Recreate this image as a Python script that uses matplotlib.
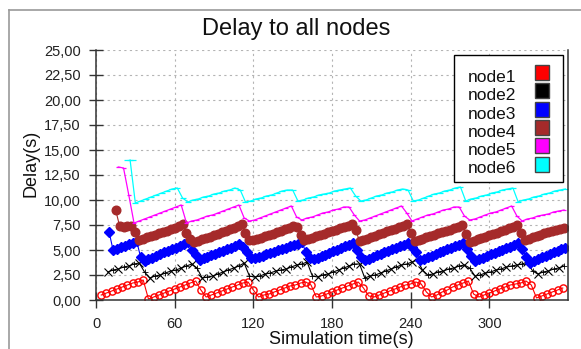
import matplotlib
matplotlib.use("Agg")
import numpy as np
import matplotlib.pyplot as plt
from matplotlib.lines import Line2D
from matplotlib.patches import Rectangle
from matplotlib.ticker import FuncFormatter

plt.rcParams['font.family'] = ['Liberation Sans', 'DejaVu Sans']

# sample times (s) and delays (s), one list per node
t1 = np.arange(4, 357, 4)
v1 = [0.5, 0.7, 0.9, 1.1, 1.3, 1.5, 1.7, 1.8, 2.0, 0.1,
      0.3, 0.5, 0.7, 0.9, 1.1, 1.3, 1.5, 1.7, 1.9, 1.0,
      0.3, 0.5, 0.7, 0.9, 1.1, 1.3, 1.5, 1.7, 1.8, 1.0,
      0.3, 0.5, 0.6, 0.8, 1.0, 1.2, 1.4, 1.5, 1.7, 1.8,
      1.5, 0.3, 0.4, 0.6, 0.8, 1.0, 1.2, 1.4, 1.6, 1.8,
      1.2, 0.4, 0.3, 0.5, 0.7, 0.9, 1.1, 1.3, 1.5, 1.6,
      1.8, 1.6, 0.8, 0.3, 0.5, 0.8, 1.0, 1.3, 1.5, 1.7,
      1.9, 0.6, 0.3, 0.5, 0.7, 0.9, 1.1, 1.3, 1.5, 1.6,
      1.7, 1.9, 1.5, 0.2, 0.4, 0.6, 0.8, 1.0, 1.2]

t2 = np.arange(9, 358, 4)
v2 = [2.8, 3.0, 3.1, 3.3, 3.4, 3.6, 3.7, 2.8, 2.2, 2.4,
      2.5, 2.7, 2.9, 3.0, 3.2, 3.4, 3.6, 3.2, 2.2, 2.3,
      2.4, 2.6, 2.8, 3.0, 3.2, 3.4, 3.7, 2.4, 2.3, 2.4,
      2.6, 2.7, 2.9, 3.0, 3.1, 3.3, 3.5, 3.6, 3.8, 2.4,
      2.3, 2.5, 2.6, 2.8, 3.0, 3.2, 3.4, 3.6, 3.6, 2.2,
      2.4, 2.5, 2.7, 2.9, 3.1, 3.3, 3.5, 3.6, 3.8, 4.0,
      3.0, 2.5, 2.6, 2.8, 2.9, 3.1, 3.2, 3.4, 3.5, 3.2,
      2.4, 2.5, 2.7, 2.8, 3.0, 3.1, 3.3, 3.4, 3.5, 3.6,
      3.8, 2.9, 2.6, 2.8, 2.9, 3.1, 3.2, 3.4]

t3 = np.arange(10, 359, 3)
v3 = [6.8, 5.0, 5.1, 5.3, 5.4, 5.6, 5.7, 5.9, 4.3, 3.9,
      4.1, 4.2, 4.4, 4.6, 4.8, 4.9, 5.1, 5.2, 5.4, 5.6,
      5.8, 5.0, 4.5, 4.0, 4.2, 4.3, 4.5, 4.6, 4.8, 4.9,
      5.1, 5.2, 5.4, 5.6, 5.3, 4.8, 4.2, 4.2, 4.3, 4.4,
      4.6, 4.7, 4.8, 5.0, 5.1, 5.2, 5.4, 5.5, 5.6, 5.8,
      4.8, 4.2, 4.1, 4.2, 4.4, 4.5, 4.7, 4.9, 5.0, 5.2,
      5.4, 5.5, 5.7, 5.0, 4.3, 4.0, 4.1, 4.3, 4.5, 4.6,
      4.8, 4.9, 5.1, 5.2, 5.4, 5.5, 5.7, 5.3, 4.8, 4.0,
      4.1, 4.3, 4.4, 4.6, 4.8, 4.9, 5.1, 5.2, 5.4, 5.5,
      5.7, 5.1, 4.4, 3.9, 4.1, 4.2, 4.4, 4.6, 4.7, 4.9,
      5.0, 5.2, 5.3, 5.5, 5.7, 5.1, 4.3, 3.7, 3.9, 4.1,
      4.3, 4.4, 4.6, 4.8, 4.9, 5.1, 5.2]

t4 = np.arange(15, 358, 3)
v4 = [9.0, 7.4, 7.3, 7.4, 7.4, 6.8, 6.0, 6.1, 6.3, 6.4,
      6.5, 6.7, 6.8, 6.9, 7.1, 7.2, 7.4, 7.6, 6.7, 6.1,
      5.8, 5.9, 6.1, 6.2, 6.3, 6.5, 6.6, 6.8, 6.9, 7.1,
      7.2, 7.4, 7.6, 6.7, 6.0, 6.0, 6.1, 6.2, 6.4, 6.5,
      6.6, 6.8, 6.9, 7.1, 7.2, 7.4, 7.3, 6.5, 6.0, 6.1,
      6.2, 6.4, 6.5, 6.6, 6.8, 6.9, 7.0, 7.2, 7.3, 7.4,
      7.6, 7.0, 5.9, 6.0, 6.1, 6.3, 6.4, 6.6, 6.7, 6.9,
      7.0, 7.1, 7.3, 7.4, 7.6, 6.7, 5.9, 6.0, 6.1, 6.3,
      6.4, 6.5, 6.7, 6.8, 6.9, 7.0, 7.2, 7.3, 7.5, 6.6,
      5.8, 5.9, 6.1, 6.2, 6.3, 6.5, 6.6, 6.7, 6.9, 7.0,
      7.2, 7.3, 7.5, 6.7, 6.0, 6.1, 6.3, 6.4, 6.5, 6.7,
      6.8, 6.9, 7.0, 7.1, 7.2]

t5 = np.arange(17, 358, 4)
v5 = [13.3, 13.2, 10.5, 7.7, 7.9, 8.1, 8.3, 8.5, 8.7, 8.9,
      9.1, 9.3, 9.5, 7.7, 7.9, 8.0, 8.2, 8.4, 8.5, 8.7,
      8.9, 9.1, 9.3, 9.5, 8.2, 7.9, 8.0, 8.2, 8.4, 8.6,
      8.8, 9.0, 9.2, 9.4, 8.3, 8.0, 8.2, 8.3, 8.5, 8.7,
      8.8, 9.0, 9.1, 9.3, 9.3, 8.5, 7.9, 8.0, 8.2, 8.4,
      8.6, 8.8, 9.0, 9.2, 9.4, 8.7, 7.9, 8.1, 8.3, 8.5,
      8.6, 8.8, 9.0, 9.1, 9.3, 9.3, 8.4, 8.0, 8.1, 8.3,
      8.5, 8.7, 8.8, 9.0, 9.2, 9.4, 8.4, 7.9, 8.1, 8.2,
      8.4, 8.5, 8.6, 8.8, 8.9, 9.0]

t6 = np.arange(26, 359, 4)
v6 = [14.0, 9.7, 9.9, 10.1, 10.3, 10.5, 10.7, 10.9, 11.1, 11.2,
      10.2, 9.8, 10.0, 10.1, 10.3, 10.4, 10.6, 10.7, 10.9, 11.0,
      11.2, 11.0, 9.8, 9.9, 10.1, 10.2, 10.4, 10.5, 10.7, 10.9,
      11.0, 11.0, 9.9, 10.0, 10.2, 10.3, 10.5, 10.6, 10.7, 10.9,
      11.0, 11.1, 11.2, 10.4, 9.9, 10.0, 10.2, 10.4, 10.5, 10.7,
      10.8, 11.0, 11.1, 11.0, 9.9, 10.0, 10.2, 10.4, 10.6, 10.7,
      10.9, 11.0, 11.2, 11.3, 9.9, 10.1, 10.2, 10.4, 10.5, 10.7,
      10.8, 11.0, 11.1, 11.2, 9.8, 10.0, 10.1, 10.3, 10.4, 10.6,
      10.7, 10.9, 11.0, 11.1]

names = ['node1', 'node2', 'node3', 'node4', 'node5', 'node6']
colors = ['#ff0000', '#000000', '#0000ff', '#a52a2a', '#ff00ff', '#00ffff']
xticks = [0, 60, 120, 180, 240, 300]
yticks = [0, 2.5, 5, 7.5, 10, 12.5, 15, 17.5, 20, 22.5, 25]

W, H = 581, 349
fig = plt.figure(figsize=(W / 100, H / 100), dpi=100)
ax = fig.add_axes([96 / W, 1 - 300 / H, 472 / W, 250 / H])

# outer frame (only top/left edges visible)
fig.add_artist(Line2D([9 / W, 1], [1 - 10 / H, 1 - 10 / H], color='#9a9a9a', lw=1.2, transform=fig.transFigure))
fig.add_artist(Line2D([9 / W, 9 / W], [0, 1 - 10 / H], color='#9a9a9a', lw=1.2, transform=fig.transFigure))

ax.plot(t1, v1, color=colors[0], lw=0.8, marker='o', ms=5.2, mfc='none', mec=colors[0], mew=1.0)
ax.plot(t2, v2, color=colors[1], lw=0.8, marker='x', ms=5.5, mew=0.8, markevery=(0, 2))
ax.plot(t2, v2, lw=0, color=colors[1], marker='+', ms=4.5, mew=0.6, markevery=(1, 2))
ax.plot(t3, v3, color=colors[2], lw=0.8, marker='D', ms=5, mec=colors[2])
ax.plot(t4, v4, color=colors[3], lw=0.8, marker='o', ms=6.2, mec=colors[3])
ax.plot(t5, v5, color=colors[4], lw=0.9, marker='_', ms=3.5, mew=0.9)
ax.plot(t6, v6, color=colors[5], lw=0.9, marker='_', ms=4.5, mew=0.9)
ax.plot(t6[:1], v6[:1], color=colors[5], marker='_', ms=8, mew=0.9)

ax.set_xlim(0, 360)
ax.set_ylim(0, 25)
ax.set_xticks(xticks)
ax.set_yticks(yticks)
ax.yaxis.set_major_formatter(FuncFormatter(lambda v, p: f"{v:.2f}".replace('.', ',')))
ax.tick_params(axis='x', direction='inout', length=12, width=1, colors='#333333', labelcolor='#222222',
               labelsize=10.5, pad=6)
ax.tick_params(axis='y', direction='inout', length=10, width=1, colors='#333333', labelcolor='#222222',
               labelsize=10.5, pad=6)
ax.grid(True, color='#b4b4b4', lw=0.8, linestyle=(0, (2, 3)))
ax.spines['top'].set_visible(False)
for s in ['left', 'bottom', 'right']:
    ax.spines[s].set_color('#333333')
    ax.spines[s].set_linewidth(1.1)

fig.text(296 / W, 1 - 35 / H, 'Delay to all nodes', fontsize=17, ha='center', va='baseline', color='#111111')
fig.text(341 / W, 1 - 339 / H, 'Simulation time(s)', fontsize=13, ha='center', va='center', color='#111111')
fig.text(31 / W, 1 - 163 / H, 'Delay(s)', fontsize=13, ha='center', va='center', rotation=90, color='#111111')

# legend box drawn by hand (labels left, colour swatches right)
fig.add_artist(Rectangle((454 / W, 1 - 182 / H), 109 / W, 127 / H, transform=fig.transFigure,
                         facecolor='white', edgecolor='black', lw=1.0, zorder=5))
for i, (name, c) in enumerate(zip(names, colors)):
    yb = 82.3 + i * 18.2
    yc = 72.5 + i * 18.34
    fig.text(468 / W, 1 - yb / H, name, fontsize=12.5, ha='left', va='baseline', color='#111111', zorder=6)
    fig.add_artist(Rectangle((535 / W, 1 - (yc + 7.5) / H), 14 / W, 15 / H, transform=fig.transFigure,
                             facecolor=c, edgecolor='#444444', lw=1.0, zorder=6))

fig.savefig('out.png', dpi=100)
